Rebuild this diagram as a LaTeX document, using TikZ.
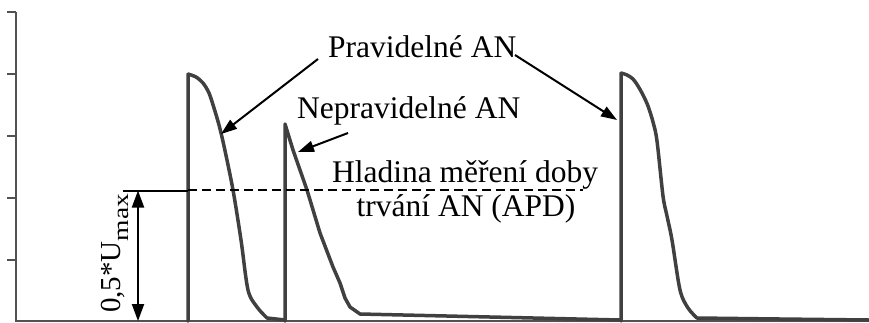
\documentclass[tikz,border=0pt]{standalone}
\usepackage{fontspec}
\setmainfont{Liberation Serif}
\usetikzlibrary{arrows.meta}

\begin{document}
\begin{tikzpicture}[x=1pt,y=-1pt,
  axisline/.style={draw=black!68, line width=2.8pt},
  tickline/.style={draw=black!68, line width=1.8pt},
  trace/.style={draw=black!75, line width=3.5pt, line join=round, line cap=round},
  pointer/.style={draw=black, line width=2pt, -{Triangle[length=16pt,width=11pt]}},
  measure/.style={draw=black, line width=2pt, {Triangle[length=17pt,width=12pt]}-{Triangle[length=17pt,width=12pt]}},
  level/.style={draw=black, line width=2pt},
  label/.style={font=\fontsize{31.5}{31.5}\selectfont, inner sep=0pt, text=black}]

\useasboundingbox (0,0) rectangle (869,322);

% axes with ticks
\draw[axisline] (16,12) -- (16,321) -- (869,321);
\foreach \ty in {12,74,136,198,260}
  \draw[tickline] (7,\ty) -- (16,\ty);

% regular action potential 1
\draw[trace] (188,321) -- (188,74)
  plot[smooth, tension=0.5] coordinates {(188,74) (196,77) (203,83) (209,93) (214,108) (219,125) (224,146) (233,190) (241,240) (248,290) (257,307) (267,318)}
  -- (285,320);
% irregular action potential
\draw[trace] (285,321) -- (285,124) -- (293,150) -- (307,190) -- (320,233) -- (333,267)
  -- (340,283) -- (345,298) -- (350,307) -- (360,314) -- (620,320);
% regular action potential 2
\draw[trace] (621,321) -- (621,73)
  plot[smooth, tension=0.5] coordinates {(621,73) (627,75) (633,79) (638,86) (643,95) (648,106) (653,122) (657,141) (663,196) (667,216) (672,240) (680,290) (688,308) (697,318)}
  -- (780,319) -- (869,320);

% measurement level
\draw[level] (123,190.5) -- (188,190.5);
\draw[level, dash pattern=on 9pt off 5pt] (188,189.5) -- (583,189.5);
\coordinate (lvltop) at (138,190.5);
\coordinate (lvlbot) at (138,321);
\draw[measure] (lvltop) -- (lvlbot);
\node[label, rotate=90, anchor=base west] (umax) at (120,313)
  {\fontsize{29}{29}\selectfont 0,5*U%
   {\fontsize{22}{22}\selectfont\raisebox{-8pt}{\scalebox{1.25}[1]{max}}}};

% labels
\node[label, anchor=base west] (regular) at (328,57) {Pravidelné AN};
\node[label, anchor=base west] (irregular) at (297,118) {Nepravidelné AN};
\node[label, anchor=base] (levelA) at (465,182) {Hladina měření doby};
\node[label, anchor=base] (levelB) at (466,216) {trvání AN (APD)};

% pointers
\coordinate (regA) at (318,59);
\coordinate (regB) at (515,55);
\coordinate (irrA) at (348,133);
\coordinate (ap1) at (221,134);
\coordinate (ap3) at (617,120);
\coordinate (ap2) at (298,152);
\draw[pointer] (regA) -- (ap1);
\draw[pointer] (regB) -- (ap3);
\draw[pointer] (irrA) -- (ap2);
\end{tikzpicture}
\end{document}
